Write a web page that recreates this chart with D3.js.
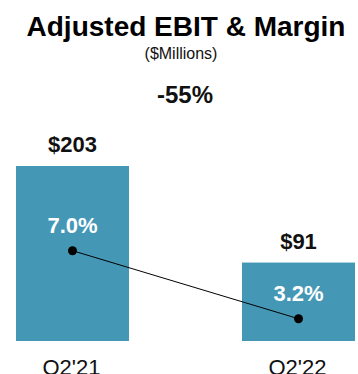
<!DOCTYPE html>
<html>
<head>
<meta charset="utf-8">
<script src="https://cdn.jsdelivr.net/npm/d3@7/dist/d3.min.js"></script>
<style>
  html, body { margin: 0; padding: 0; background: #fff; overflow: hidden; }
  svg { display: block; font-family: "Liberation Sans", Arial, sans-serif; }
</style>
</head>
<body>
<svg id="chart" width="358" height="374"></svg>
<script>
// Quarterly adjusted EBIT ($M) and margin (%)
const categories = ["Q2'21", "Q2'22"];
const ebitValues = [203, 91];
const marginValues = [7.0, 3.2];
const ebitLabels = ["$203", "$91"];
const marginLabels = ["7.0%", "3.2%"];
const changeLabel = "-55%";

const svg = d3.select("#chart");
const barColor = "#4598b5";

const x = d3.scaleBand()
  .domain(categories)
  .range([16, 355])
  .paddingInner(0.5)
  .paddingOuter(0);

const y = d3.scaleLinear()
  .domain([0, d3.max(ebitValues)])
  .range([341, 166]);

const yMargin = d3.scaleLinear()
  .domain([0, 7])
  .range([376, 250.7]);

const rows = categories.map((c, i) => ({
  cat: c, ebit: ebitValues[i], margin: marginValues[i],
  ebitLabel: ebitLabels[i], marginLabel: marginLabels[i]
}));

// Titles
svg.append("text")
  .attr("x", 186).attr("y", 36)
  .attr("text-anchor", "middle")
  .attr("font-size", 28).attr("font-weight", "bold").attr("fill", "#000")
  .text("Adjusted EBIT & Margin");

svg.append("text")
  .attr("x", 181).attr("y", 59)
  .attr("text-anchor", "middle")
  .attr("font-size", 16).attr("fill", "#111")
  .text("($Millions)");

svg.append("text")
  .attr("x", 185).attr("y", 103)
  .attr("text-anchor", "middle")
  .attr("font-size", 24).attr("font-weight", "bold").attr("fill", "#111")
  .text(changeLabel);

// Bars
svg.selectAll("rect.bar")
  .data(rows)
  .join("rect")
  .attr("class", "bar")
  .attr("x", d => x(d.cat))
  .attr("width", x.bandwidth())
  .attr("y", d => y(d.ebit))
  .attr("height", d => y(0) - y(d.ebit))
  .attr("fill", barColor);

// EBIT value labels above bars
svg.selectAll("text.ebit")
  .data(rows)
  .join("text")
  .attr("class", "ebit")
  .attr("x", d => x(d.cat) + x.bandwidth() / 2)
  .attr("y", d => y(d.ebit) - 14)
  .attr("text-anchor", "middle")
  .attr("font-size", 22).attr("font-weight", "bold").attr("fill", "#111")
  .text(d => d.ebitLabel);

// Margin line and points
const line = d3.line()
  .x(d => x(d.cat) + x.bandwidth() / 2)
  .y(d => yMargin(d.margin));

svg.append("path")
  .datum(rows)
  .attr("d", line)
  .attr("fill", "none")
  .attr("stroke", "#000")
  .attr("stroke-width", 1);

svg.selectAll("circle.pt")
  .data(rows)
  .join("circle")
  .attr("class", "pt")
  .attr("cx", d => x(d.cat) + x.bandwidth() / 2)
  .attr("cy", d => yMargin(d.margin))
  .attr("r", 4.5)
  .attr("fill", "#000");

svg.selectAll("text.margin")
  .data(rows)
  .join("text")
  .attr("class", "margin")
  .attr("x", d => x(d.cat) + x.bandwidth() / 2)
  .attr("y", d => yMargin(d.margin) - 18)
  .attr("text-anchor", "middle")
  .attr("font-size", 22).attr("font-weight", "bold").attr("fill", "#fff")
  .text(d => d.marginLabel);

// Category labels
svg.selectAll("text.cat")
  .data(rows)
  .join("text")
  .attr("class", "cat")
  .attr("x", d => x(d.cat) + x.bandwidth() / 2 - 1)
  .attr("y", 375)
  .attr("text-anchor", "middle")
  .attr("font-size", 22).attr("fill", "#111")
  .text(d => d.cat);
</script>
</body>
</html>
